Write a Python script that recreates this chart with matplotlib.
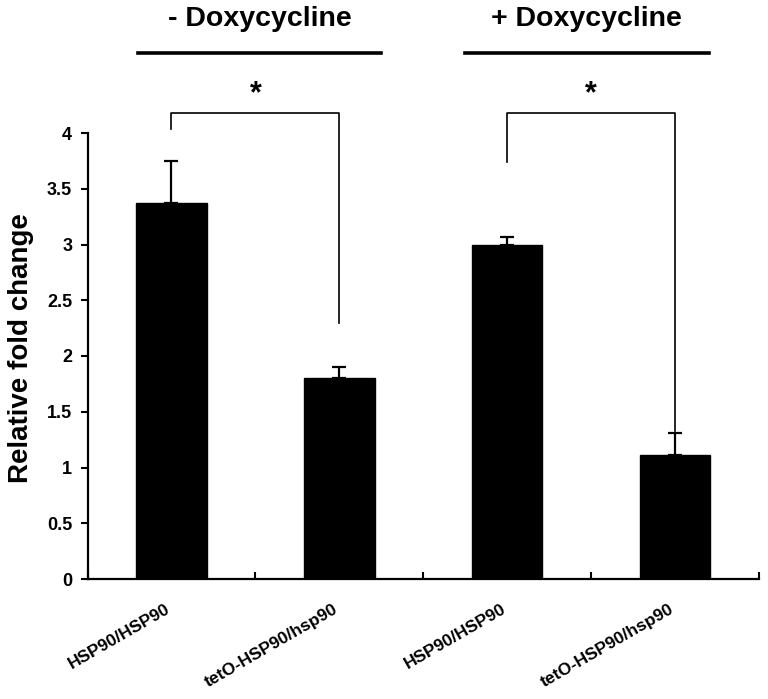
import matplotlib
matplotlib.use("Agg")
import matplotlib.pyplot as plt
import matplotlib.transforms as mtransforms
import numpy as np

plt.rcParams['font.family'] = ['Liberation Sans', 'DejaVu Sans']
plt.rcParams['font.weight'] = 'bold'

categories = ["HSP90/HSP90", "tetO-HSP90/hsp90", "HSP90/HSP90", "tetO-HSP90/hsp90"]
values = [3.37, 1.80, 3.00, 1.11]
errors = [0.38, 0.10, 0.07, 0.20]
groups = ["- Doxycycline", "+ Doxycycline"]
y_ticks = [0, 0.5, 1, 1.5, 2, 2.5, 3, 3.5, 4]
y_ticklabels = ["0", "0.5", "1", "1.5", "2", "2.5", "3", "3.5", "4"]
ylabel = "Relative fold change"
sig_marks = ["*", "*"]

fig = plt.figure(figsize=(7.68, 6.99), dpi=100)
ax = fig.add_axes([87.5 / 768, 1 - 579 / 699, (759 - 87.5) / 768, (579 - 133) / 699])

x = np.arange(len(values))
ax.bar(x, values, width=0.42, color='black', edgecolor='black', zorder=2)
ax.errorbar(x, values, yerr=[np.zeros(len(errors)), errors], fmt='none',
            ecolor='black', elinewidth=1.6, capsize=5, capthick=1.6, zorder=3)

ax.set_xlim(-0.5, 3.5)
ax.set_ylim(0, 4)
ax.set_yticks(y_ticks)
ax.set_yticklabels(y_ticklabels, fontsize=13, fontweight='bold')
ax.tick_params(axis='y', direction='out', length=5, width=1.5, pad=6)

ax.set_xticks([-0.5, 0.5, 1.5, 2.5, 3.5])
ax.set_xticklabels([])
ax.tick_params(axis='x', which='major', direction='in', length=5, width=1.5)
ax.set_xticks(x, minor=True)
ax.set_xticklabels(categories, minor=True, rotation=30, ha='right', va='top',
                   rotation_mode='anchor', fontsize=12.5, fontweight='bold')
ax.tick_params(axis='x', which='minor', length=0, pad=16)
shift = mtransforms.ScaledTranslation(-6 / 100, 0, fig.dpi_scale_trans)
for lbl in ax.get_xticklabels(minor=True):
    lbl.set_transform(lbl.get_transform() + shift)

for s in ['top', 'right']:
    ax.spines[s].set_visible(False)
for s in ['left', 'bottom']:
    ax.spines[s].set_linewidth(1.6)

ax.set_ylabel(ylabel, fontsize=20, fontweight='bold')
ax.yaxis.set_label_coords(-0.079, 0.518)

# significance brackets
brackets = [(0, 1, 4.04, 2.30), (2, 3, 3.74, 1.33)]
top = 4.18
for (xa, xb, ya, yb), mark in zip(brackets, sig_marks):
    ax.plot([xa, xa, xb, xb], [ya, top, top, yb], color='black', lw=1.2,
            clip_on=False, zorder=4)
    ax.text((xa + xb) / 2, 4.35, mark, ha='center', va='center', fontsize=22,
            fontweight='bold', clip_on=False)

# group headers
group_spans = [(-0.20, 1.25), (1.75, 3.20)]
for (xa, xb), g in zip(group_spans, groups):
    ax.plot([xa, xb], [4.72, 4.72], color='black', lw=2.6, clip_on=False)
    ax.text((xa + xb) / 2, 5.02, g, ha='center', va='center', fontsize=20.5,
            fontweight='bold', clip_on=False)

fig.savefig("out.png", dpi=100)
